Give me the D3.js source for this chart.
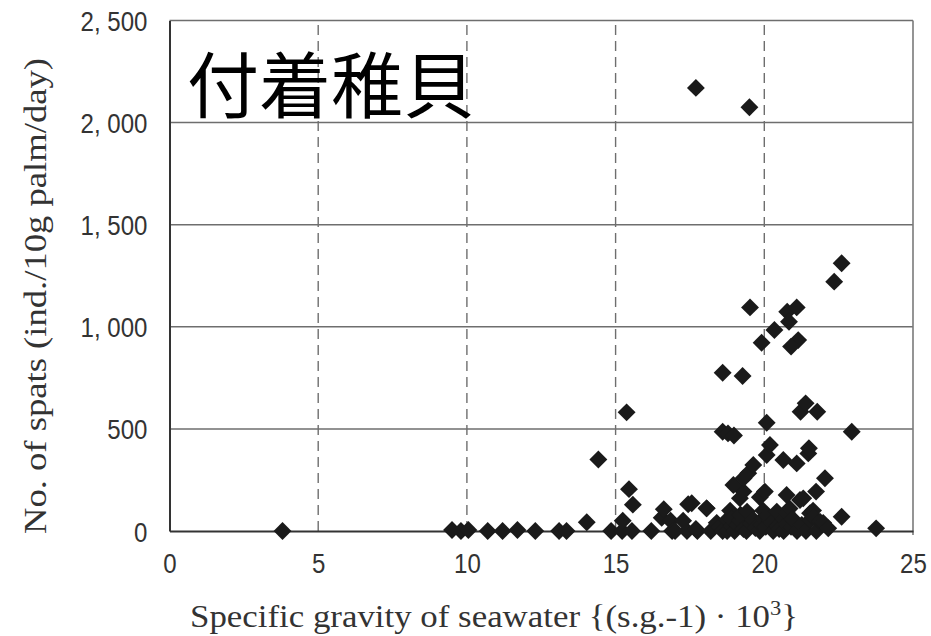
<!DOCTYPE html>
<html>
<head>
<meta charset="utf-8">
<script src="https://cdn.jsdelivr.net/npm/d3@7"></script>
<style>
  html, body { margin: 0; padding: 0; background: #fff; }
  svg { display: block; }
</style>
</head>
<body>
<svg id="chart" width="931" height="636"></svg>
<script>
// Specific gravity of seawater {(s.g.-1)·10^3} for each sampling
const gravity = [
  3.8,
  9.5, 9.8, 10.05, 10.7, 11.2, 11.7, 12.3, 13.1, 13.35,
  14.03, 14.42, 14.85, 15.22, 15.24, 15.37, 15.45, 15.58, 15.55,
  16.2, 16.55, 16.62, 16.85, 16.9, 17.0, 17.27, 17.4, 17.44, 17.56, 17.75, 17.7,
  18.06, 18.2, 18.4, 18.5, 18.6, 18.75, 18.75, 18.85, 18.9, 18.9, 19.0, 19.1, 19.18, 19.2, 19.3,
  19.4, 19.42, 19.55, 19.63, 19.7, 19.85, 19.9, 19.95, 19.96, 20.05, 20.1, 20.2, 20.25, 20.3,
  20.42, 20.45, 20.5, 20.64, 20.65, 20.75, 20.76, 20.85, 20.9, 20.95, 21.1, 21.26, 21.4,
  21.54, 21.55, 21.64, 21.65, 21.75, 21.87, 21.98, 22.15, 22.6, 23.76,
  18.06, 19.18, 19.3, 19.85, 20.02, 20.75, 21.2, 21.31, 21.74,
  18.96, 19.3, 19.46, 22.04,
  19.63, 20.08, 20.19, 20.64, 21.09, 21.48, 21.5,
  18.6, 18.78, 18.98, 20.08, 21.22, 21.39, 21.78, 22.94,
  18.6, 19.27, 19.91, 20.34, 20.77, 20.83, 19.52, 21.09, 21.14, 20.9, 22.35, 22.6,
  17.7, 19.5
];

// Spats settled (ind./10g palm/day), same order as gravity
const spats = [
  0,
  5, 0, 5, 0, 0, 5, 0, 0, 0,
  43, 350, 0, 0, 50, 581, 205, 129, 0,
  0, 65, 107, 50, 0, 0, 50, 0, 131, 136, 0, 10,
  111, 0, 40, 20, 0, 0, 55, 100, 25, 60, 0, 30, 50, 80, 10,
  0, 95, 35, 55, 15, 0, 30, 60, 100, 20, 75, 50, 40, 0,
  95, 25, 10, 60, 0, 35, 88, 110, 20, 60, 0, 30, 0,
  87, 55, 100, 70, 0, 46, 40, 13, 70, 13,
  111, 160, 193, 165, 193, 176, 152, 160, 193,
  225, 258, 283, 258,
  323, 372, 421, 348, 331, 380, 405,
  486, 478, 468, 530, 584, 625, 584, 486,
  775, 759, 922, 984, 1074, 1025, 1095, 1095, 935, 903, 1221, 1311,
  2170, 2075
];

const xTicks = [0, 5, 10, 15, 20, 25];
const yTicks = [0, 500, 1000, 1500, 2000, 2500];
const yTickLabels = ["0", "500", "1, 000", "1, 500", "2, 000", "2, 500"];

const title = "付着稚貝";
const xTitle = "Specific gravity of seawater {(s.g.-1) \u00B7 10";
const yTitle = "No. of spats (ind./10g palm/day)";

const svg = d3.select("#chart");
const x = d3.scaleLinear().domain([0, 25]).range([169.5, 913]);
const y = d3.scaleLinear().domain([0, 2500]).range([531, 20.5]);

const tickFont = "'Liberation Sans', Arial, sans-serif";
const serif = "'Liberation Serif', 'DejaVu Serif', serif";
const narrow = 0.86;   // horizontal squeeze for the tick numerals

// horizontal gridlines
svg.append("g")
  .selectAll("line")
  .data(yTicks.filter(v => v > 0))
  .join("line")
  .attr("x1", x(0)).attr("x2", x(25))
  .attr("y1", d => y(d)).attr("y2", d => y(d))
  .attr("stroke", "#6e6e6e").attr("stroke-width", 1.5);

// vertical dashed gridlines
svg.append("g")
  .selectAll("line")
  .data(xTicks.filter(v => v > 0 && v < 25))
  .join("line")
  .attr("x1", d => x(d)).attr("x2", d => x(d))
  .attr("y1", y(0)).attr("y2", y(2500))
  .attr("stroke", "#6e6e6e").attr("stroke-width", 1.4)
  .attr("stroke-dasharray", "10,6");

// right border
svg.append("line")
  .attr("x1", x(25)).attr("x2", x(25))
  .attr("y1", y(0) + 4).attr("y2", y(2500))
  .attr("stroke", "#7a7a7a").attr("stroke-width", 1.6);

// title over the plot
svg.append("text")
  .attr("x", 187).attr("y", 80)
  .attr("dominant-baseline", "central")
  .attr("font-family", "'Noto Sans CJK JP', 'Noto Sans CJK SC', sans-serif")
  .attr("font-size", 72)
  .attr("font-weight", 400)
  .attr("fill", "#000")
  .text(title);

// axes
const xAxis = svg.append("g")
  .attr("transform", `translate(0,${y(0)})`)
  .call(d3.axisBottom(x).tickValues(xTicks).tickSize(0).tickPadding(22).tickFormat(d3.format("d")));
const yAxis = svg.append("g")
  .attr("transform", `translate(${x(0)},0)`)
  .call(d3.axisLeft(y).tickValues(yTicks).tickSize(0).tickPadding(22)
    .tickFormat((d, i) => yTickLabels[i]));

[xAxis, yAxis].forEach(g => {
  g.select(".domain").attr("stroke", "#333").attr("stroke-width", 2);
  g.selectAll("text")
    .attr("font-family", tickFont)
    .attr("font-size", 28)
    .attr("fill", "#333")
    .attr("transform", `scale(${narrow},1)`);
});
yAxis.selectAll("text").attr("dy", "0.36em").attr("x", -22 / narrow);

// points
svg.append("g")
  .selectAll("path")
  .data(gravity.map((g, i) => [g, spats[i]]))
  .join("path")
  .attr("d", d3.symbol(d3.symbolSquare, 160)())
  .attr("transform", d => `translate(${x(d[0])},${y(d[1])}) rotate(45)`)
  .attr("fill", "#1a1a1a");

// axis titles
const xt = svg.append("text")
  .attr("x", 190).attr("y", 627)
  .attr("font-family", serif)
  .attr("font-size", 31)
  .attr("fill", "#333")
  .attr("textLength", 608)
  .attr("lengthAdjust", "spacingAndGlyphs")
  .text(xTitle);
xt.append("tspan").attr("font-size", 20).attr("dy", -12).text("3");
xt.append("tspan").attr("dy", 12).text("}");

svg.append("text")
  .attr("transform", "translate(46,296) rotate(-90)")
  .attr("text-anchor", "middle")
  .attr("font-family", serif)
  .attr("font-size", 31)
  .attr("fill", "#333")
  .attr("textLength", 476)
  .attr("lengthAdjust", "spacingAndGlyphs")
  .text(yTitle);
</script>
</body>
</html>
